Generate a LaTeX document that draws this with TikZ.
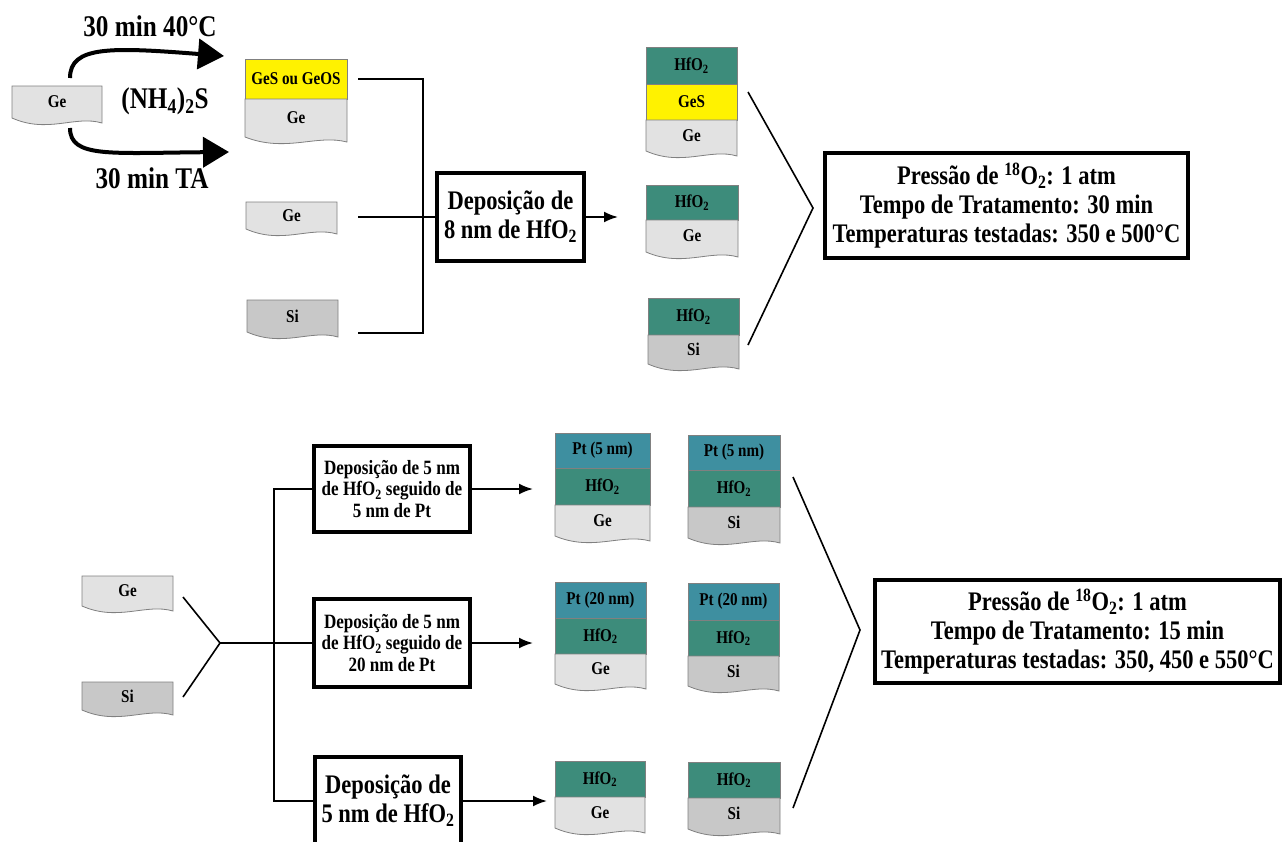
\documentclass[tikz,border=0pt]{standalone}
\usepackage{fontspec}
\setmainfont{Liberation Serif}[FakeStretch=0.84]
\usetikzlibrary{positioning, calc, arrows.meta}

\definecolor{gefill}{RGB}{226,226,226}
\definecolor{sifill}{RGB}{200,200,200}
\definecolor{gesfill}{RGB}{255,242,0}
\definecolor{hfofill}{RGB}{61,140,123}
\definecolor{ptfill}{RGB}{62,143,160}

\newcommand{\lblfont}{\fontsize{18}{20}\selectfont\bfseries}
\newcommand{\bigfont}{\fontsize{30}{32}\selectfont\bfseries}
\newcommand{\boxfont}{\fontsize{26.8}{29}\selectfont\bfseries}
\newcommand{\smallboxfont}{\fontsize{20.3}{21.5}\selectfont\bfseries}

% name, x, y, width, height, colour, label
\newcommand{\stacklayer}[7]{%
  \node[layer, fill=#6, minimum width=#4pt, minimum height=#5pt, anchor=north west] (#1) at (#2,#3) {#7};
}
\newcommand{\waferpiece}[7]{%
  \draw[waferline, fill=#6] (#2,#3) -- (#2+#4,#3) -- (#2+#4,#3+#5+5)
    .. controls (#2+0.7*#4,#3+#5-3) and (#2+0.4*#4,#3+#5+16) .. (#2,#3+#5) -- cycle;
  \node[lbl] (#1) at (#2+0.5*#4,#3+0.5*#5) {#7};
}

\begin{document}
\begin{tikzpicture}[
  x=1pt, y=-1pt,
  >={Latex[length=14pt, width=11pt]},
  waferline/.style  = {draw=black!50, line width=0.8pt},
  layer/.style      = {draw=black!50, line width=0.8pt, rectangle, inner sep=0pt, outer sep=0pt, font=\lblfont},
  lbl/.style        = {inner sep=0pt, font=\lblfont},
  link/.style       = {line width=2pt},
  flow/.style       = {line width=2pt, ->},
  bracket/.style    = {line width=1.6pt},
  curvearrow/.style = {line width=4pt, -{Triangle[length=26pt, width=30pt]}},
  stepbox/.style    = {draw, line width=4pt, align=center, inner sep=0pt},
  cond/.style       = {draw, line width=4pt, align=center, inner sep=0pt, font=\boxfont},
  big/.style        = {font=\bigfont, inner sep=0pt},
]
  \useasboundingbox[fill=white] (0,0) rectangle (1284,841);
  \clip (0,0) rectangle (1284,841);

  % sulfide treatment
  \waferpiece{ge0}{12}{86}{90}{32}{gefill}{Ge}
  \coordinate (up0)  at (70,78);
  \coordinate (up1)  at (224,56);
  \coordinate (dn0)  at (70,128);
  \coordinate (dn1)  at (229,152);
  \draw[curvearrow] (up0) .. controls (70,46) and (110,47) .. (up1);
  \draw[curvearrow] (dn0) .. controls (70,158) and (110,153) .. (dn1);
  \node[big] (t40) at (150,26)  {30 min 40°C};
  \node[big] (nh)  at (165,101) {(NH\textsubscript{4})\textsubscript{2}S};
  \node[big] (tta) at (152,178) {30 min TA};

  % samples before deposition
  \stacklayer{sAa}{245}{59}{102}{40}{gesfill}{GeS ou GeOS}
  \waferpiece{sAb}{245}{99}{102}{38}{gefill}{Ge}
  \waferpiece{sB}{246}{202}{91}{27}{gefill}{Ge}
  \waferpiece{sC}{247}{300}{91}{32}{sifill}{Si}

  \node[stepbox, minimum width=147pt, minimum height=88pt, font=\boxfont] (dep8) at (510.5,217)
    {Deposição de\\8 nm de HfO\textsubscript{2}};

  \coordinate (jA)   at (358,79);
  \coordinate (jB)   at (358,217);
  \coordinate (jC)   at (358,333);
  \coordinate (vtop) at (423,79);
  \coordinate (vbot) at (423,333);
  \coordinate (a8)   at (618,217);
  \draw[link] (jA) -- (vtop) -- (vbot) -- (jC);
  \draw[link] (jB) -- (dep8.west);
  \draw[flow] (dep8.east) -- (a8);

  % samples after deposition
  \stacklayer{r1a}{646}{47}{91}{37}{hfofill}{HfO\textsubscript{2}}
  \stacklayer{r1b}{646}{84}{91}{36}{gesfill}{GeS}
  \waferpiece{r1c}{646}{120}{91}{31}{gefill}{Ge}
  \stacklayer{r2a}{646}{185}{92}{35}{hfofill}{HfO\textsubscript{2}}
  \waferpiece{r2b}{646}{220}{92}{32}{gefill}{Ge}
  \stacklayer{r3a}{648}{298}{91}{37}{hfofill}{HfO\textsubscript{2}}
  \waferpiece{r3b}{648}{335}{91}{29}{sifill}{Si}

  \coordinate (b1) at (748,92);
  \coordinate (b2) at (813,208);
  \coordinate (b3) at (748,345);
  \draw[bracket] (b1) -- (b2) -- (b3);

  \node[cond, minimum width=363pt, minimum height=105pt] (cond1) at (1006.5,205.5)
    {Pressão de \textsuperscript{18}O\textsubscript{2}: 1 atm\\Tempo de Tratamento: 30 min\\Temperaturas testadas: 350 e 500°C};

  % second series
  \waferpiece{geb}{82}{576}{91}{30}{gefill}{Ge}
  \waferpiece{sib}{82}{682}{91}{28}{sifill}{Si}

  \node[stepbox, minimum width=156pt, minimum height=86pt, font=\smallboxfont] (dep1) at (392,489)
    {Deposição de 5 nm\\de HfO\textsubscript{2} seguido de\\5 nm de Pt};
  \node[stepbox, minimum width=156pt, minimum height=88pt, font=\smallboxfont] (dep2) at (392,643)
    {Deposição de 5 nm\\de HfO\textsubscript{2} seguido de\\20 nm de Pt};
  \node[stepbox, minimum width=146pt, minimum height=88pt, font=\boxfont] (dep3) at (388,801)
    {Deposição de\\5 nm de HfO\textsubscript{2}};

  \coordinate (g1) at (183,597);
  \coordinate (g2) at (220,643);
  \coordinate (g3) at (183,697);
  \coordinate (v1) at (274,489);
  \coordinate (v3) at (274,801);
  \draw[bracket] (g1) -- (g2) -- (g3);
  \draw[link] (g2) -- (dep2.west);
  \draw[link] (dep1.west) -- (v1) -- (v3) -- (dep3.west);

  \coordinate (e1) at (533,489);
  \coordinate (e2) at (533,643);
  \coordinate (e3) at (547,801);
  \draw[flow] (dep1.east) -- (e1);
  \draw[flow] (dep2.east) -- (e2);
  \draw[flow] (dep3.east) -- (e3);

  \stacklayer{p1a}{555}{433}{95}{35}{ptfill}{Pt (5 nm)}
  \stacklayer{p1b}{555}{468}{95}{37}{hfofill}{HfO\textsubscript{2}}
  \waferpiece{p1c}{555}{505}{95}{31}{gefill}{Ge}
  \stacklayer{q1a}{688}{435}{92}{35}{ptfill}{Pt (5 nm)}
  \stacklayer{q1b}{688}{470}{92}{37}{hfofill}{HfO\textsubscript{2}}
  \waferpiece{q1c}{688}{507}{92}{31}{sifill}{Si}

  \stacklayer{p2a}{555}{582}{91}{36}{ptfill}{Pt (20 nm)}
  \stacklayer{p2b}{555}{618}{91}{36}{hfofill}{HfO\textsubscript{2}}
  \waferpiece{p2c}{555}{654}{91}{30}{gefill}{Ge}
  \stacklayer{q2a}{688}{583}{91}{37}{ptfill}{Pt (20 nm)}
  \stacklayer{q2b}{688}{620}{91}{36}{hfofill}{HfO\textsubscript{2}}
  \waferpiece{q2c}{688}{656}{91}{30}{sifill}{Si}

  \stacklayer{p3a}{555}{761}{90}{36}{hfofill}{HfO\textsubscript{2}}
  \waferpiece{p3b}{555}{797}{90}{31}{gefill}{Ge}
  \stacklayer{q3a}{688}{762}{92}{36}{hfofill}{HfO\textsubscript{2}}
  \waferpiece{q3b}{688}{798}{92}{31}{sifill}{Si}

  \coordinate (k1) at (793,477);
  \coordinate (k2) at (860,630);
  \coordinate (k3) at (793,808);
  \draw[bracket] (k1) -- (k2) -- (k3);

  \node[cond, minimum width=405pt, minimum height=103pt] (cond2) at (1077.5,631.5)
    {Pressão de \textsuperscript{18}O\textsubscript{2}: 1 atm\\Tempo de Tratamento: 15 min\\Temperaturas testadas: 350, 450 e 550°C};
\end{tikzpicture}
\end{document}
